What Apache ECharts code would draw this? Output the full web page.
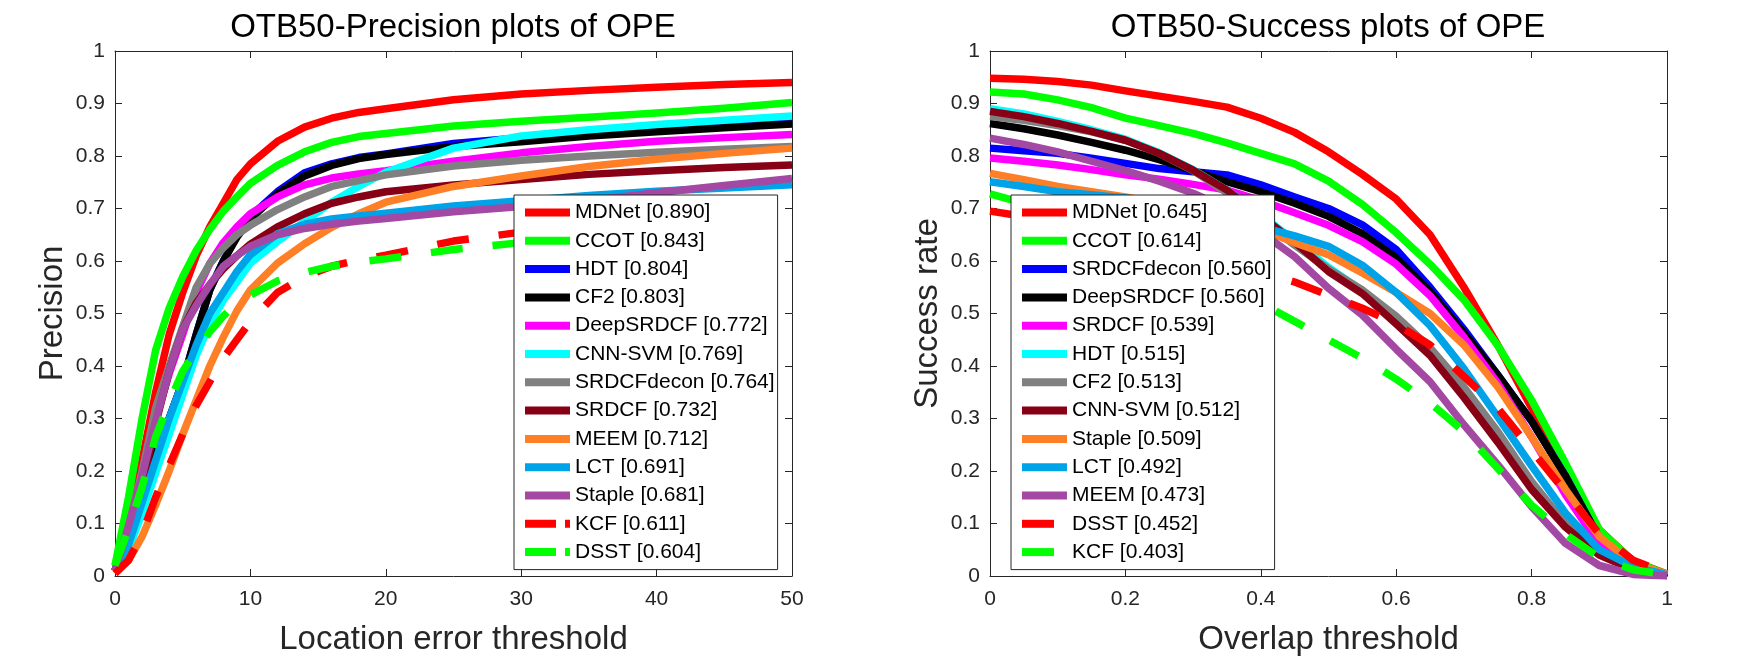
<!DOCTYPE html>
<html><head><meta charset="utf-8">
<script src="https://cdn.jsdelivr.net/npm/echarts@6/dist/echarts.min.js"></script>
<style>html,body{margin:0;padding:0;background:#fff}#c{width:1750px;height:656px}</style>
</head><body><div id="c"></div>
<script>
// ---------- Precision plot data ----------
const precThresholds = [0,1,2,3,4,5,6,7,8,9,10,12,14,16,18,20,25,30,35,40,45,50];
const precTrackers = ['MDNet','CCOT','HDT','CF2','DeepSRDCF','CNN-SVM','SRDCFdecon','SRDCF','MEEM','LCT','Staple','KCF','DSST'];
const precScores = ['0.890','0.843','0.804','0.803','0.772','0.769','0.764','0.732','0.712','0.691','0.681','0.611','0.604'];
const precColors = ['#FF0000','#00FF00','#0000FF','#000000','#FF00FF','#00FFFF','#808080','#880015','#FF7F27','#00A2E8','#A349A4','#FF0000','#00FF00'];
const precDashed = [false,false,false,false,false,false,false,false,false,false,false,true,true];
const precMDNet      = [0.01,0.09,0.22,0.35,0.46,0.54,0.61,0.665,0.71,0.755,0.785,0.828,0.855,0.872,0.883,0.890,0.907,0.918,0.925,0.931,0.936,0.940];
const precCCOT       = [0.02,0.15,0.30,0.43,0.51,0.57,0.62,0.66,0.695,0.722,0.748,0.782,0.808,0.826,0.837,0.843,0.857,0.866,0.874,0.882,0.891,0.902];
const precHDT        = [0.01,0.07,0.15,0.23,0.30,0.37,0.46,0.545,0.60,0.648,0.685,0.732,0.768,0.785,0.797,0.804,0.824,0.835,0.846,0.855,0.862,0.868];
const precCF2        = [0.01,0.07,0.15,0.23,0.30,0.37,0.46,0.545,0.60,0.645,0.68,0.728,0.762,0.782,0.795,0.803,0.818,0.827,0.838,0.846,0.854,0.861];
const precDeepSRDCF  = [0.01,0.09,0.19,0.30,0.385,0.46,0.54,0.595,0.635,0.665,0.69,0.722,0.745,0.758,0.766,0.772,0.79,0.806,0.818,0.828,0.835,0.841];
const precCNNSVM     = [0.01,0.05,0.12,0.196,0.27,0.345,0.42,0.48,0.525,0.56,0.596,0.637,0.675,0.712,0.742,0.769,0.815,0.838,0.85,0.86,0.868,0.876];
const precSRDCFdecon = [0.01,0.095,0.2,0.32,0.40,0.475,0.55,0.595,0.625,0.65,0.668,0.698,0.722,0.742,0.753,0.764,0.781,0.792,0.80,0.807,0.813,0.818];
const precSRDCF      = [0.01,0.08,0.17,0.29,0.39,0.47,0.52,0.555,0.585,0.61,0.632,0.665,0.69,0.71,0.722,0.732,0.745,0.755,0.765,0.772,0.778,0.783];
const precMEEM       = [0.005,0.03,0.075,0.135,0.2,0.27,0.335,0.40,0.455,0.505,0.545,0.596,0.633,0.664,0.69,0.712,0.742,0.762,0.78,0.794,0.805,0.815];
const precLCT        = [0.01,0.06,0.14,0.22,0.30,0.37,0.44,0.50,0.54,0.58,0.612,0.652,0.67,0.68,0.686,0.691,0.705,0.715,0.725,0.733,0.739,0.745];
const precStaple     = [0.01,0.095,0.19,0.295,0.39,0.47,0.515,0.555,0.59,0.61,0.628,0.65,0.662,0.67,0.676,0.681,0.694,0.704,0.715,0.73,0.744,0.757];
const precKCF        = [0.005,0.03,0.08,0.15,0.21,0.27,0.325,0.37,0.415,0.45,0.485,0.54,0.57,0.59,0.602,0.611,0.638,0.655,0.672,0.69,0.705,0.719];
const precDSST       = [0.02,0.09,0.17,0.265,0.33,0.39,0.43,0.465,0.495,0.52,0.535,0.562,0.578,0.59,0.598,0.604,0.622,0.635,0.647,0.658,0.668,0.678];
const precValues = [precMDNet,precCCOT,precHDT,precCF2,precDeepSRDCF,precCNNSVM,precSRDCFdecon,precSRDCF,precMEEM,precLCT,precStaple,precKCF,precDSST];

// ---------- Success plot data ----------
const succThresholds = [0,0.05,0.1,0.15,0.2,0.25,0.3,0.35,0.4,0.45,0.5,0.55,0.6,0.65,0.7,0.75,0.8,0.85,0.9,0.95,1];
const succTrackers = ['MDNet','CCOT','SRDCFdecon','DeepSRDCF','SRDCF','HDT','CF2','CNN-SVM','Staple','LCT','MEEM','DSST','KCF'];
const succScores = ['0.645','0.614','0.560','0.560','0.539','0.515','0.513','0.512','0.509','0.492','0.473','0.452','0.403'];
const succColors = ['#FF0000','#00FF00','#0000FF','#000000','#FF00FF','#00FFFF','#808080','#880015','#FF7F27','#00A2E8','#A349A4','#FF0000','#00FF00'];
const succDashed = [false,false,false,false,false,false,false,false,false,false,false,true,true];
const succMDNet      = [0.948,0.946,0.942,0.935,0.924,0.914,0.904,0.893,0.872,0.845,0.808,0.765,0.718,0.650,0.550,0.440,0.320,0.200,0.088,0.028,0.004];
const succCCOT       = [0.922,0.918,0.907,0.892,0.872,0.858,0.843,0.825,0.805,0.785,0.752,0.708,0.654,0.594,0.526,0.439,0.335,0.215,0.088,0.028,0.003];
const succSRDCFdecon = [0.815,0.810,0.805,0.796,0.786,0.776,0.770,0.764,0.745,0.722,0.700,0.669,0.622,0.550,0.470,0.383,0.295,0.191,0.072,0.020,0.002];
const succDeepSRDCF  = [0.862,0.852,0.840,0.826,0.811,0.793,0.772,0.751,0.732,0.710,0.685,0.652,0.606,0.542,0.463,0.383,0.295,0.190,0.072,0.020,0.002];
const succSRDCF      = [0.796,0.790,0.783,0.774,0.764,0.756,0.746,0.735,0.715,0.692,0.668,0.637,0.594,0.534,0.455,0.367,0.265,0.155,0.060,0.018,0.002];
const succHDT        = [0.890,0.880,0.866,0.850,0.832,0.806,0.774,0.735,0.688,0.638,0.588,0.543,0.490,0.432,0.358,0.273,0.178,0.098,0.044,0.013,0.001];
const succCF2        = [0.875,0.868,0.858,0.846,0.830,0.805,0.772,0.730,0.680,0.630,0.585,0.545,0.495,0.435,0.360,0.275,0.180,0.100,0.045,0.013,0.001];
const succCNNSVM     = [0.885,0.875,0.862,0.847,0.830,0.805,0.773,0.735,0.686,0.636,0.580,0.538,0.480,0.420,0.340,0.255,0.165,0.093,0.040,0.012,0.001];
const succStaple     = [0.767,0.755,0.742,0.732,0.722,0.710,0.695,0.680,0.660,0.635,0.612,0.577,0.540,0.500,0.440,0.360,0.265,0.165,0.075,0.024,0.003];
const succLCT        = [0.751,0.742,0.732,0.726,0.720,0.710,0.695,0.680,0.665,0.648,0.628,0.592,0.540,0.477,0.395,0.303,0.210,0.120,0.050,0.018,0.002];
const succMEEM       = [0.834,0.822,0.808,0.790,0.772,0.752,0.729,0.700,0.655,0.608,0.548,0.497,0.432,0.370,0.288,0.212,0.132,0.062,0.020,0.003,0.000];
const succDSST       = [0.695,0.685,0.675,0.660,0.645,0.630,0.615,0.600,0.580,0.560,0.535,0.510,0.480,0.440,0.380,0.320,0.240,0.160,0.080,0.030,0.005];
const succKCF        = [0.728,0.710,0.690,0.670,0.645,0.620,0.590,0.555,0.520,0.485,0.450,0.415,0.375,0.330,0.275,0.205,0.135,0.080,0.035,0.012,0.002];
const succValues = [succMDNet,succCCOT,succSRDCFdecon,succDeepSRDCF,succSRDCF,succHDT,succCF2,succCNNSVM,succStaple,succLCT,succMEEM,succDSST,succKCF];

// ---------- Tick labels & texts ----------
const yTickLabels = ['0','0.1','0.2','0.3','0.4','0.5','0.6','0.7','0.8','0.9','1'];
const precXTickLabels = ['0','10','20','30','40','50'];
const succXTickLabels = ['0','0.2','0.4','0.6','0.8','1'];
const titles = ['OTB50-Precision plots of OPE','OTB50-Success plots of OPE'];
const xNames = ['Location error threshold','Overlap threshold'];
const yNames = ['Precision','Success rate'];

// ---------- Chart ----------
const FONT = '"Liberation Sans", Arial, Helvetica, sans-serif';
const AX = '#262626';
const grids = [
  {left:115, top:51, width:677, height:525, outerBoundsMode:'none', containLabel:false},
  {left:990, top:51, width:677, height:525, outerBoundsMode:'none', containLabel:false}
];
const xCfg = [
  {max:50, interval:10, labels:precXTickLabels},
  {max:1, interval:0.2, labels:succXTickLabels}
];

const xAxes = [], yAxes = [];
for (let g = 0; g < 2; g++) {
  const c = xCfg[g];
  const common = {type:'value', gridIndex:g, min:0, max:c.max, interval:c.interval,
    axisLine:{show:true, onZero:false, lineStyle:{color:AX, width:1}},
    axisTick:{show:true, inside:true, length:7, lineStyle:{color:AX, width:1}},
    splitLine:{show:false}};
  xAxes.push(Object.assign({}, common, {position:'bottom',
    axisLabel:{show:true, margin:13, color:AX, fontSize:21, fontFamily:FONT,
      formatter:(v)=>c.labels[Math.round(v / c.interval)]},
    name:xNames[g], nameLocation:'middle', nameGap:47,
    nameTextStyle:{fontSize:33, color:AX, fontFamily:FONT}}));
  xAxes.push(Object.assign({}, common, {position:'top', axisLabel:{show:false}}));
  const ycommon = {type:'value', gridIndex:g, min:0, max:1, interval:0.1,
    axisLine:{show:true, onZero:false, lineStyle:{color:AX, width:1}},
    axisTick:{show:true, inside:true, length:7, lineStyle:{color:AX, width:1}},
    splitLine:{show:false}};
  yAxes.push(Object.assign({}, ycommon, {position:'left',
    axisLabel:{show:true, margin:10, color:AX, fontSize:21, fontFamily:FONT,
      formatter:(v)=>yTickLabels[Math.round(v*10)]},
    name:yNames[g], nameLocation:'middle', nameGap:46,
    nameTextStyle:{fontSize:33, color:AX, fontFamily:FONT}}));
  yAxes.push(Object.assign({}, ycommon, {position:'right', axisLabel:{show:false}}));
}

const series = [];
function addSeries(g, thresholds, trackers, scores, colors, dashed, values) {
  trackers.forEach((t, i) => {
    series.push({
      type:'line', name: t + ' [' + scores[i] + ']',
      xAxisIndex: g*2, yAxisIndex: g*2,
      data: thresholds.map((x, k) => [x, values[i][k]]),
      symbol:'none', smooth:false, clip:true, z: 2,
      itemStyle:{color: colors[i]},
      lineStyle:{color: colors[i], width:7.5, type: dashed[i] ? [32, 30] : 'solid', join:'round'},
      emphasis:{disabled:true}, animation:false
    });
  });
}
addSeries(0, precThresholds, precTrackers, precScores, precColors, precDashed, precValues);
addSeries(1, succThresholds, succTrackers, succScores, succColors, succDashed, succValues);

function legendFor(left, trackers, scores, dashed, shortDash) {
  return {
    orient:'vertical', left:left, top:195, padding:[7,3,7,7], itemGap:7.3,
    itemWidth:45, itemHeight:14, selectedMode:false,
    backgroundColor:'#ffffff', borderColor:AX, borderWidth:1, borderRadius:0,
    textStyle:{fontSize:21, lineHeight:20, color:'#000', fontFamily:FONT},
    itemStyle:{opacity:0},
    lineStyle:{width:8},
    data: trackers.map((t, i) => {
      const o = {name: t + ' [' + scores[i] + ']'};
      if (dashed[i]) o.lineStyle = {width:8, type: shortDash};
      return o;
    })
  };
}

const option = {
  animation:false,
  backgroundColor:'#ffffff',
  title: [
    {text:titles[0], left:453, top:11, textAlign:'center', padding:0,
      textStyle:{fontSize:33, fontWeight:'normal', color:'#000', fontFamily:FONT}},
    {text:titles[1], left:1328, top:11, textAlign:'center', padding:0,
      textStyle:{fontSize:33, fontWeight:'normal', color:'#000', fontFamily:FONT}}
  ],
  grid: grids,
  xAxis: xAxes,
  yAxis: yAxes,
  legend: [
    legendFor(514, precTrackers, precScores, precDashed, [31, 9]),
    legendFor(1011, succTrackers, succScores, succDashed, [32, 30])
  ],
  series: series
};

const chart = echarts.init(document.getElementById('c'), null, {renderer:'canvas'});
chart.setOption(option);
</script>
</body></html>
